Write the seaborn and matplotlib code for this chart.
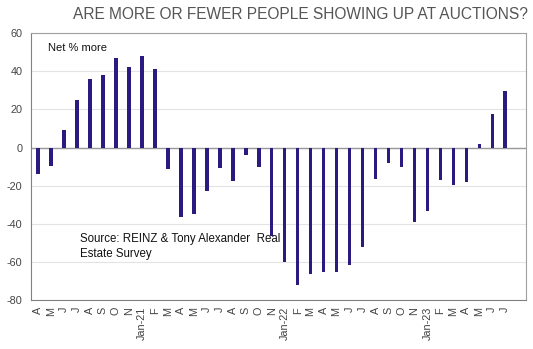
import matplotlib
matplotlib.use("Agg")
import matplotlib.pyplot as plt
import seaborn as sns
import pandas as pd

month_labels = ["A", "M", "J", "J", "A", "S", "O", "N", "Jan-21", "F",
                "M", "A", "M", "J", "J", "A", "S", "O", "N", "Jan-22",
                "F", "M", "A", "M", "J", "J", "A", "S", "O", "N",
                "Jan-23", "F", "M", "A", "M", "J", "J"]
net_more = [-14, -9.5, 9, 25, 36, 38, 47, 42, 48, 41,
            -11, -36.5, -35, -23, -10.5, -17.5, -4, -10, -46.5, -60,
            -72, -66.5, -65.5, -65.5, -61.5, -52, -16.5, -8, -10, -39,
            -33, -17, -19.5, -18.3, 2, 17.5, 29.5]

df = pd.DataFrame({"pos": range(len(net_more)), "value": net_more})

sns.set_theme(style="white")
plt.rcParams["font.family"] = ["Liberation Sans", "DejaVu Sans"]
plt.rcParams["axes.unicode_minus"] = False

fig = plt.figure(figsize=(5.33, 3.49), dpi=100)
ax = fig.add_axes([0.058, 0.140, 0.929, 0.765])

ax.yaxis.grid(True, color="#e3e3e3", linewidth=0.8)
ax.set_axisbelow(True)
ax.axhline(0, color="#9a9a9a", linewidth=1.0, zorder=1)

sns.barplot(data=df, x="pos", y="value", color="#2B1A80", saturation=1,
            width=0.28, linewidth=0, ax=ax, zorder=3)

ax.set_ylim(-80, 60)
ax.set_yticks(range(-80, 61, 20))
ax.set_xlim(-0.55, 37.6)

ax.set_xticks(range(len(month_labels)))
ax.set_xticklabels(month_labels, rotation=90, fontsize=7.8, color="#444444")
ax.tick_params(axis="y", labelsize=7.8, labelcolor="#444444", length=0, pad=6)
ax.tick_params(axis="x", length=0, pad=5)
ax.set_xlabel("")
ax.set_ylabel("")

for side in ["top", "right"]:
    ax.spines[side].set_color("#a0a0a0")
    ax.spines[side].set_linewidth(0.8)
for side in ["left", "bottom"]:
    ax.spines[side].set_color("#808080")
    ax.spines[side].set_linewidth(0.8)

ax.text(0.035, 0.945, "Net % more", transform=ax.transAxes, fontsize=8,
        color="#111111", va="center", ha="left")
ax.text(0.100, 0.200, "Source: REINZ & Tony Alexander  Real\nEstate Survey",
        transform=ax.transAxes, fontsize=8.3, color="#111111",
        va="center", ha="left", linespacing=1.3)

fig.text(0.563, 0.958, "ARE MORE OR FEWER PEOPLE SHOWING UP AT AUCTIONS?",
         ha="center", va="center", fontsize=11.2, color="#555555")

fig.savefig("out.png", dpi=100)
